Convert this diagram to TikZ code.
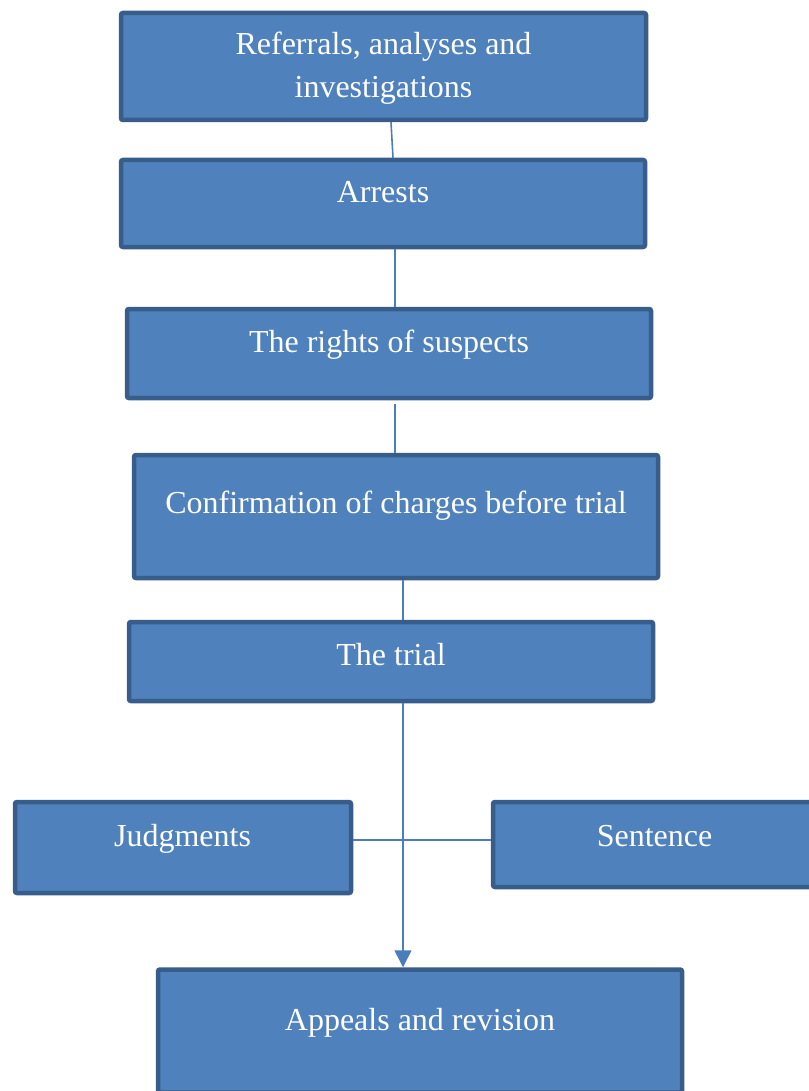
\documentclass[tikz,border=0pt]{standalone}
\usepackage{fontspec}
\setmainfont{Liberation Serif}
\usetikzlibrary{arrows.meta}

\definecolor{boxfill}{HTML}{4F81BD}
\definecolor{boxline}{HTML}{385D8A}
\definecolor{conn}{HTML}{4A7EBB}

\begin{document}
\begin{tikzpicture}[x=1pt,y=-1pt,
  box/.style={draw=boxline,fill=boxfill,line width=4.5pt,rounded corners=2pt,inner sep=0pt},
  txt/.style={text=white,font=\fontsize{32}{43}\selectfont,align=center,anchor=base},
  ln/.style={draw=conn,line width=1.6pt},
  ar/.style={ln,-{Triangle[length=17pt,width=17pt]}}
]
\useasboundingbox (0,0) rectangle (808,1091);

% Stage boxes
\node[box,minimum width=525,minimum height=107] (refs)    at (383.5,66.5)  {};
\node[box,minimum width=524,minimum height=87]  (arrests) at (383,203.5)   {};
\node[box,minimum width=524,minimum height=89]  (rights)  at (389,353.5)   {};
\node[box,minimum width=524,minimum height=123] (confirm) at (396,516.5)   {};
\node[box,minimum width=524,minimum height=79]  (trial)   at (391,661.5)   {};
\node[box,minimum width=336,minimum height=91]  (judg)    at (183,847.5)   {};
\node[box,minimum width=324,minimum height=85]  (sent)    at (655,844.5)   {};
\node[box,minimum width=524,minimum height=123] (appeals) at (420,1031)    {};

% Labels
\node[txt] (refs-t)    at (383.5,98) {Referrals, analyses and\\investigations};
\node[txt] (arrests-t) at (383,203)  {Arrests};
\node[txt] (rights-t)  at (389,352)  {The rights of suspects};
\node[txt] (confirm-t) at (396,513)  {Confirmation of charges before trial};
\node[txt] (trial-t)   at (391,665)  {The trial};
\node[txt] (judg-t)    at (182.5,846) {Judgments};
\node[txt] (sent-t)    at (654.5,846) {Sentence};
\node[txt] (appeals-t) at (420,1030) {Appeals and revision};

% Connectors
\draw[ln] ([xshift=7.5pt]refs.south) -- ([xshift=10pt]arrests.north);
\draw[ln] ([xshift=12pt]arrests.south) -- ([xshift=6pt]rights.north);
\draw[ln] ([xshift=6pt,yshift=-4pt]rights.south) -- ([xshift=-1pt]confirm.north);
\draw[ln] ([xshift=7pt]confirm.south) -- ([xshift=12pt]trial.north);
\draw[ln] ([yshift=7.5pt]judg.east) -- ([yshift=4.5pt]sent.west);
\draw[ar] ([xshift=12pt]trial.south) -- ([xshift=-17pt]appeals.north);
\end{tikzpicture}
\end{document}
